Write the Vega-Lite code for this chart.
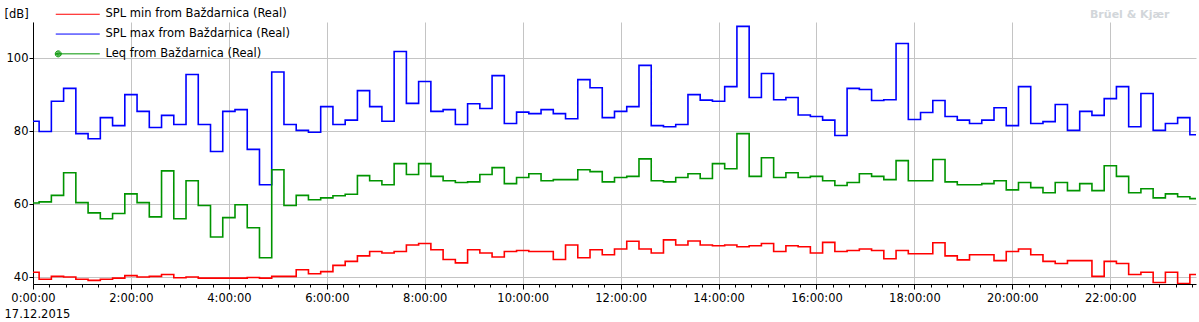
{
  "$schema": "https://vega.github.io/schema/vega-lite/v6.json",
  "width": 1163,
  "height": 262,
  "autosize": {"type": "none"},
  "padding": {"left": 33, "top": 22, "right": 3, "bottom": 38},
  "background": "white",
  "config": {
    "view": {"stroke": null},
    "font": "DejaVu Sans",
    "axis": {
      "domainColor": "#000000",
      "tickColor": "#000000",
      "labelColor": "#000000",
      "titleColor": "#000000",
      "gridColor": "#c4c4c4",
      "labelFont": "DejaVu Sans",
      "titleFont": "DejaVu Sans",
      "labelFontSize": 11.5,
      "titleFontSize": 11.5,
      "titleFontWeight": "normal"
    }
  },
  "title": {
    "text": "Brüel & Kjær",
    "anchor": "end",
    "dx": -48,
    "dy": 16,
    "offset": 4,
    "color": "#d2d6da",
    "font": "DejaVu Sans",
    "fontSize": 11,
    "fontWeight": "bold"
  },
  "data": {
    "values": [
      {"t": 0, "min": 41.4, "max": 82.8, "leq": 60.4},
      {"t": 15, "min": 39.5, "max": 80.0, "leq": 60.7},
      {"t": 30, "min": 40.3, "max": 88.3, "leq": 62.5},
      {"t": 45, "min": 40.1, "max": 91.8, "leq": 68.7},
      {"t": 60, "min": 39.5, "max": 79.4, "leq": 60.5},
      {"t": 75, "min": 39.2, "max": 78.0, "leq": 57.7},
      {"t": 90, "min": 39.5, "max": 83.8, "leq": 56.1},
      {"t": 105, "min": 39.8, "max": 81.6, "leq": 57.5},
      {"t": 120, "min": 40.5, "max": 90.1, "leq": 62.9},
      {"t": 135, "min": 40.1, "max": 85.5, "leq": 60.5},
      {"t": 150, "min": 40.3, "max": 81.1, "leq": 56.6},
      {"t": 165, "min": 40.8, "max": 84.4, "leq": 69.2},
      {"t": 180, "min": 39.9, "max": 81.9, "leq": 56.1},
      {"t": 195, "min": 40.1, "max": 95.6, "leq": 66.5},
      {"t": 210, "min": 39.8, "max": 81.9, "leq": 59.7},
      {"t": 225, "min": 39.8, "max": 74.5, "leq": 51.1},
      {"t": 240, "min": 39.8, "max": 85.5, "leq": 56.4},
      {"t": 255, "min": 39.8, "max": 86.0, "leq": 59.9},
      {"t": 270, "min": 40.0, "max": 75.1, "leq": 53.6},
      {"t": 285, "min": 39.8, "max": 65.4, "leq": 45.4},
      {"t": 300, "min": 40.3, "max": 96.3, "leq": 69.5},
      {"t": 315, "min": 40.3, "max": 81.9, "leq": 59.7},
      {"t": 330, "min": 42.1, "max": 80.3, "leq": 62.5},
      {"t": 345, "min": 41.0, "max": 79.8, "leq": 61.3},
      {"t": 360, "min": 41.6, "max": 86.8, "leq": 61.8},
      {"t": 375, "min": 43.3, "max": 81.9, "leq": 62.4},
      {"t": 390, "min": 44.4, "max": 83.1, "leq": 62.8},
      {"t": 405, "min": 45.9, "max": 91.2, "leq": 67.9},
      {"t": 420, "min": 47.1, "max": 86.8, "leq": 66.5},
      {"t": 435, "min": 46.7, "max": 82.8, "leq": 65.4},
      {"t": 450, "min": 47.1, "max": 101.9, "leq": 71.2},
      {"t": 465, "min": 48.9, "max": 87.7, "leq": 68.2},
      {"t": 480, "min": 49.3, "max": 93.7, "leq": 71.2},
      {"t": 495, "min": 47.6, "max": 85.5, "leq": 67.7},
      {"t": 510, "min": 44.9, "max": 86.0, "leq": 66.5},
      {"t": 525, "min": 44.0, "max": 81.9, "leq": 66.0},
      {"t": 540, "min": 47.6, "max": 87.6, "leq": 66.2},
      {"t": 555, "min": 46.7, "max": 86.3, "leq": 68.2},
      {"t": 570, "min": 45.6, "max": 95.3, "leq": 70.1},
      {"t": 585, "min": 47.1, "max": 82.2, "leq": 65.7},
      {"t": 600, "min": 47.4, "max": 85.3, "leq": 67.4},
      {"t": 615, "min": 47.1, "max": 84.9, "leq": 68.4},
      {"t": 630, "min": 47.1, "max": 86.0, "leq": 66.5},
      {"t": 645, "min": 44.9, "max": 84.9, "leq": 66.8},
      {"t": 660, "min": 48.9, "max": 83.5, "leq": 66.8},
      {"t": 675, "min": 45.4, "max": 94.2, "leq": 69.5},
      {"t": 690, "min": 47.6, "max": 92.0, "leq": 69.0},
      {"t": 705, "min": 46.2, "max": 83.8, "leq": 66.2},
      {"t": 720, "min": 47.8, "max": 85.5, "leq": 67.4},
      {"t": 735, "min": 49.9, "max": 86.8, "leq": 67.7},
      {"t": 750, "min": 47.8, "max": 98.1, "leq": 72.5},
      {"t": 765, "min": 46.7, "max": 81.6, "leq": 66.5},
      {"t": 780, "min": 50.3, "max": 81.3, "leq": 66.2},
      {"t": 795, "min": 48.9, "max": 81.9, "leq": 67.4},
      {"t": 810, "min": 50.0, "max": 90.1, "leq": 68.4},
      {"t": 825, "min": 48.9, "max": 88.6, "leq": 67.1},
      {"t": 840, "min": 48.7, "max": 88.3, "leq": 71.2},
      {"t": 855, "min": 48.9, "max": 92.3, "leq": 69.8},
      {"t": 870, "min": 48.4, "max": 108.8, "leq": 79.4},
      {"t": 885, "min": 48.7, "max": 89.3, "leq": 67.7},
      {"t": 900, "min": 49.3, "max": 95.9, "leq": 72.8},
      {"t": 915, "min": 47.1, "max": 88.7, "leq": 67.4},
      {"t": 930, "min": 48.7, "max": 89.3, "leq": 68.7},
      {"t": 945, "min": 48.4, "max": 84.5, "leq": 67.4},
      {"t": 960, "min": 46.7, "max": 84.1, "leq": 67.7},
      {"t": 975, "min": 49.6, "max": 83.1, "leq": 66.5},
      {"t": 990, "min": 47.1, "max": 78.9, "leq": 65.2},
      {"t": 1005, "min": 47.4, "max": 91.8, "leq": 66.0},
      {"t": 1020, "min": 47.8, "max": 91.5, "leq": 68.4},
      {"t": 1035, "min": 47.4, "max": 88.5, "leq": 67.7},
      {"t": 1050, "min": 45.1, "max": 88.7, "leq": 66.8},
      {"t": 1065, "min": 47.4, "max": 104.1, "leq": 72.0},
      {"t": 1080, "min": 46.5, "max": 83.3, "leq": 66.5},
      {"t": 1095, "min": 46.5, "max": 85.2, "leq": 66.5},
      {"t": 1110, "min": 49.5, "max": 88.5, "leq": 72.3},
      {"t": 1125, "min": 45.9, "max": 84.1, "leq": 66.2},
      {"t": 1140, "min": 44.8, "max": 83.1, "leq": 65.4},
      {"t": 1155, "min": 46.2, "max": 82.2, "leq": 65.4},
      {"t": 1170, "min": 46.2, "max": 83.1, "leq": 65.7},
      {"t": 1185, "min": 44.6, "max": 86.5, "leq": 66.5},
      {"t": 1200, "min": 47.1, "max": 81.6, "leq": 64.0},
      {"t": 1215, "min": 47.8, "max": 92.3, "leq": 66.0},
      {"t": 1230, "min": 46.2, "max": 82.2, "leq": 64.6},
      {"t": 1245, "min": 44.4, "max": 82.7, "leq": 63.2},
      {"t": 1260, "min": 43.8, "max": 87.4, "leq": 66.0},
      {"t": 1275, "min": 44.6, "max": 80.3, "leq": 63.8},
      {"t": 1290, "min": 44.6, "max": 85.5, "leq": 65.7},
      {"t": 1305, "min": 40.3, "max": 84.4, "leq": 63.8},
      {"t": 1320, "min": 44.4, "max": 89.0, "leq": 70.6},
      {"t": 1335, "min": 43.8, "max": 92.3, "leq": 67.7},
      {"t": 1350, "min": 40.8, "max": 81.3, "leq": 63.2},
      {"t": 1365, "min": 41.4, "max": 90.4, "leq": 64.3},
      {"t": 1380, "min": 38.6, "max": 80.3, "leq": 61.8},
      {"t": 1395, "min": 41.4, "max": 82.2, "leq": 62.9},
      {"t": 1410, "min": 38.3, "max": 83.8, "leq": 62.1},
      {"t": 1425, "min": 40.8, "max": 79.1, "leq": 61.6}
    ]
  },
  "transform": [{"fold": ["min", "max", "leq"], "as": ["series", "v"]}],
  "encoding": {
    "x": {
      "field": "t",
      "type": "quantitative",
      "scale": {"domain": [0, 1425], "nice": false, "zero": false},
      "axis": {
        "title": "17.12.2015",
        "titleAlign": "left",
        "titleBaseline": "alphabetic",
        "titleX": -29,
        "titleY": 33,
        "values": [0,20,40,60,80,100,120,140,160,180,200,220,240,260,280,300,320,340,360,380,400,420,440,460,480,500,520,540,560,580,600,620,640,660,680,700,720,740,760,780,800,820,840,860,880,900,920,940,960,980,1000,1020,1040,1060,1080,1100,1120,1140,1160,1180,1200,1220,1240,1260,1280,1300,1320,1340,1360,1380,1400,1420],
        "labelExpr": "datum.value % 120 == 0 ? floor(datum.value / 60) + ':00:00' : ''",
        "labelFlush": false,
        "labelOverlap": false,
        "labelPadding": 3,
        "tickSize": {"condition": {"test": "datum.value % 120 == 0", "value": 5}, "value": 3},
        "grid": true,
        "gridOpacity": {"condition": {"test": "datum.value % 120 == 0", "value": 1}, "value": 0}
      }
    },
    "y": {
      "field": "v",
      "type": "quantitative",
      "scale": {"domain": [38.2, 110], "nice": false, "zero": false},
      "axis": {
        "title": "[dB]",
        "titleAngle": 0,
        "titleAlign": "left",
        "titleBaseline": "middle",
        "titleX": -29,
        "titleY": -8,
        "values": [40, 60, 80, 100],
        "tickSize": 4,
        "labelPadding": 1,
        "grid": true
      }
    },
    "color": {
      "field": "series",
      "type": "nominal",
      "scale": {"domain": ["min", "max", "leq"], "range": ["#ff0000", "#0000ff", "#009400"]},
      "legend": {
        "orient": "none",
        "legendX": 22,
        "legendY": -13.5,
        "title": null,
        "labelExpr": "datum.label == 'min' ? 'SPL min from Baždarnica (Real)' : datum.label == 'max' ? 'SPL max from Baždarnica (Real)' : 'Leq from Baždarnica (Real)'",
        "labelFont": "DejaVu Sans",
        "labelFontSize": 11.5,
        "labelColor": "#000000",
        "labelLimit": 0,
        "symbolSize": 100,
        "symbolStrokeWidth": 1,
        "symbolOpacity": 1,
        "labelOffset": 39,
        "rowPadding": 6.8,
        "padding": 0
      }
    }
  },
  "layer": [
    {
      "mark": {"type": "line", "interpolate": "step", "strokeWidth": 1.6, "clip": true}
    },
    {
      "mark": {"type": "point", "opacity": 0, "filled": false},
      "encoding": {
        "shape": {
          "field": "series",
          "type": "nominal",
          "scale": {
            "domain": ["min", "max", "leq"],
            "range": [
              "M-1,0L7.8,0",
              "M-1,0L7.8,0",
              "M-1,0L7.8,0M-1.1,0a0.6,0.6 0 1,0 1.2,0a0.6,0.6 0 1,0 -1.2,0M-0.9,0a0.4,0.4 0 1,0 0.8,0a0.4,0.4 0 1,0 -0.8,0M-0.7,0a0.2,0.2 0 1,0 0.4,0a0.2,0.2 0 1,0 -0.4,0"
            ]
          }
        }
      }
    }
  ]
}
